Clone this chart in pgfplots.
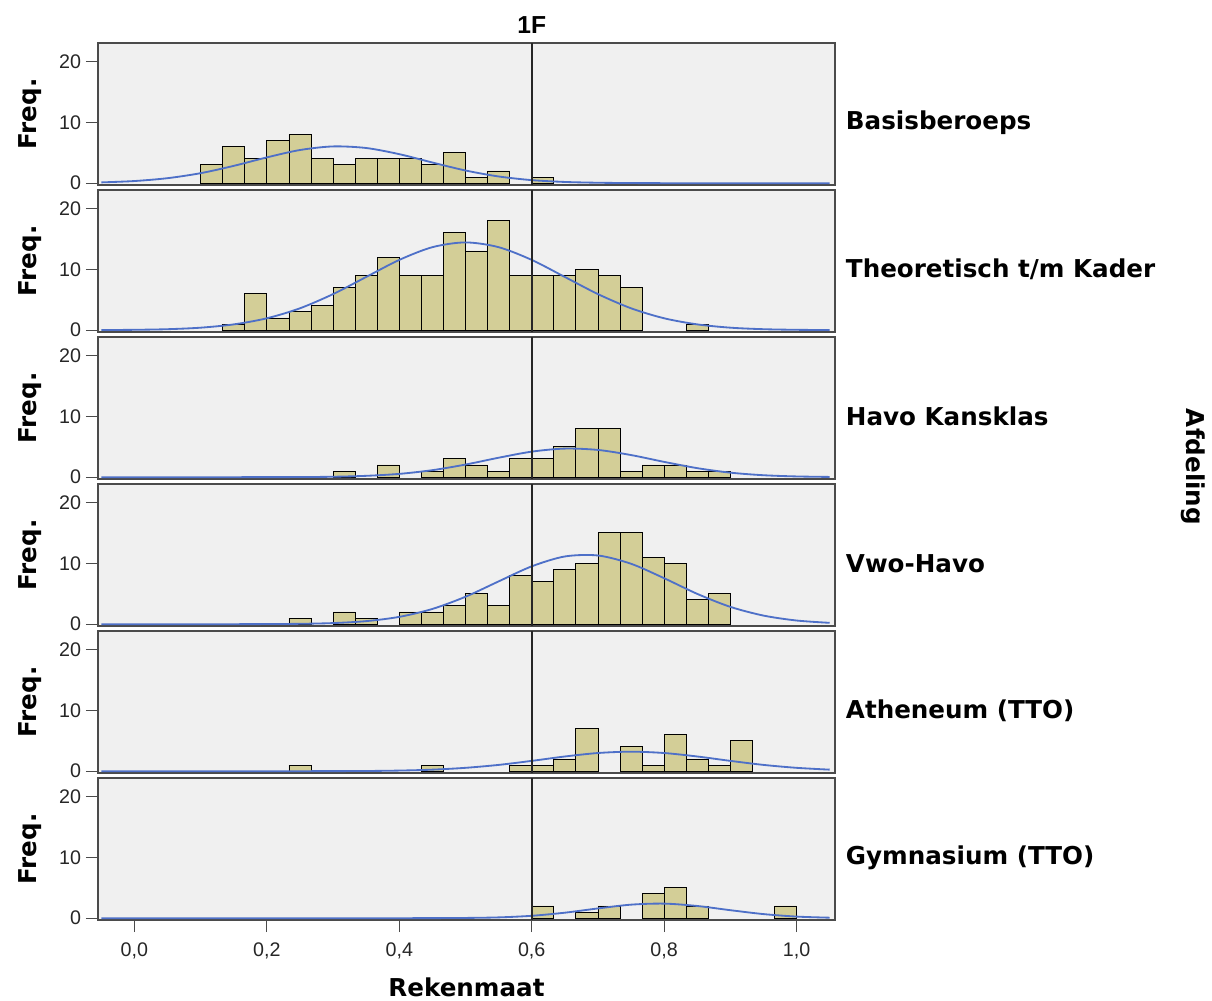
\documentclass[border=0pt]{standalone}
\usepackage{fontspec}
\setmainfont{Liberation Sans}
\newfontfamily\dejavu{DejaVu Sans}
\usepackage{pgfplots}
\pgfplotsset{compat=1.18}

\definecolor{bgpanel}{RGB}{240,240,240}
\definecolor{barfill}{RGB}{211,206,151}
\definecolor{framec}{RGB}{75,75,75}
\definecolor{curve}{RGB}{78,112,200}
\newcommand\lbl{\dejavu\fontsize{17.5}{20}\selectfont\bfseries}
\newcommand\ticks{\fontsize{14}{16}\selectfont}

\tikzset{grp/.style={font=\lbl, anchor=west, xshift=1.5mm}}

\pgfplotsset{
  panel/.style={
    scale only axis, width=184.25mm, height=35.5mm, anchor=north west,
    xmin=-0.055, xmax=1.058, ymin=-0.3, ymax=23,
    clip mode=individual,
    axis background/.style={fill=bgpanel},
    axis line style={draw=framec, line width=0.9pt},
    ytick={0,10,20}, xtick=\empty, tick pos=left,
    tick align=outside, major tick length=3mm,
    tick style={draw=framec, line width=0.9pt},
    ticklabel style={font=\ticks, text=black!85},
    /pgf/number format/assume math mode=true,
    ylabel={Freq.},
    every axis y label/.style={at={(axis description cs:-0.0923,0.5)}, rotate=90, anchor=center, font=\lbl},
  },
  bars/.style={ybar, bar width=0.03333, bar shift=0pt, fill=barfill, draw=black, line width=0.6pt},
  fit/.style={curve, line width=1.3pt, smooth},
  refline/.style={black!85, line width=1.1pt},
}

\begin{document}
\begin{tikzpicture}
\path[use as bounding box] (0,0) rectangle (303mm,-250.25mm);

% Basisberoeps
\begin{axis}[panel, at={(24.5mm,-10.75mm)}]
\addplot[bars] coordinates {(0.1167,3) (0.15,6) (0.1833,4) (0.2167,7) (0.25,8) (0.2833,4) (0.3167,3) (0.35,4) (0.3833,4) (0.4167,4) (0.45,3) (0.4833,5) (0.5167,1) (0.55,2) (0.6167,1)};
\addplot[fit] coordinates {(-0.05,0.13) (0,0.35) (0.05,0.82) (0.1,1.64) (0.15,2.84) (0.2,4.23) (0.25,5.44) (0.3,6.03) (0.35,5.77) (0.4,4.76) (0.45,3.39) (0.5,2.08) (0.55,1.10) (0.6,0.50) (0.65,0.20) (0.7,0.07) (0.75,0.02) (0.8,0) (0.85,0) (0.9,0) (0.95,0) (1,0) (1.05,0)};
\addplot[refline] coordinates {(0.6,-0.3) (0.6,23)};
\node[font=\bfseries\fontsize{17.5}{20}\selectfont, yshift=4.5mm] at (axis cs:0.6,23) {1F};
\node[grp] at (axis description cs:1,0.44) {Basisberoeps};
\end{axis}

% Theoretisch t/m Kader
\begin{axis}[panel, at={(24.5mm,-47.5mm)}]
\addplot[bars] coordinates {(0.15,1) (0.1833,6) (0.2167,2) (0.25,3) (0.2833,4) (0.3167,7) (0.35,9) (0.3833,12) (0.4167,9) (0.45,9) (0.4833,16) (0.5167,13) (0.55,18) (0.5833,9) (0.6167,9) (0.65,9) (0.6833,10) (0.7167,9) (0.75,7) (0.85,1)};
\addplot[fit] coordinates {(-0.05,0.02) (0,0.06) (0.05,0.16) (0.1,0.41) (0.15,0.95) (0.2,1.95) (0.25,3.59) (0.3,5.92) (0.35,8.73) (0.4,11.53) (0.45,13.62) (0.5,14.4) (0.55,13.62) (0.6,11.53) (0.65,8.73) (0.7,5.92) (0.75,3.59) (0.8,1.95) (0.85,0.95) (0.9,0.41) (0.95,0.16) (1,0.06) (1.05,0.02)};
\addplot[refline] coordinates {(0.6,-0.3) (0.6,23)};
\node[grp] at (axis description cs:1,0.44) {Theoretisch t/m Kader};
\end{axis}

% Havo Kansklas
\begin{axis}[panel, at={(24.5mm,-84.25mm)}]
\addplot[bars] coordinates {(0.3167,1) (0.3833,2) (0.45,1) (0.4833,3) (0.5167,2) (0.55,1) (0.5833,3) (0.6167,3) (0.65,5) (0.6833,8) (0.7167,8) (0.75,1) (0.7833,2) (0.8167,2) (0.85,1) (0.8833,1)};
\addplot[fit] coordinates {(-0.05,0) (0,0) (0.05,0) (0.1,0) (0.15,0) (0.2,0.01) (0.25,0.02) (0.3,0.07) (0.35,0.22) (0.4,0.54) (0.45,1.15) (0.5,2.07) (0.55,3.19) (0.6,4.19) (0.65,4.69) (0.7,4.47) (0.75,3.63) (0.8,2.51) (0.85,1.48) (0.9,0.74) (0.95,0.32) (1,0.12) (1.05,0.04)};
\addplot[refline] coordinates {(0.6,-0.3) (0.6,23)};
\node[grp] at (axis description cs:1,0.44) {Havo Kansklas};
\end{axis}

% Vwo-Havo
\begin{axis}[panel, at={(24.5mm,-121mm)}]
\addplot[bars] coordinates {(0.25,1) (0.3167,2) (0.35,1) (0.4167,2) (0.45,2) (0.4833,3) (0.5167,5) (0.55,3) (0.5833,8) (0.6167,7) (0.65,9) (0.6833,10) (0.7167,15) (0.75,15) (0.7833,11) (0.8167,10) (0.85,4) (0.8833,5)};
\addplot[fit] coordinates {(-0.05,0) (0,0) (0.05,0) (0.1,0) (0.15,0) (0.2,0.02) (0.25,0.06) (0.3,0.18) (0.35,0.50) (0.4,1.20) (0.45,2.50) (0.5,4.50) (0.55,7.02) (0.6,9.49) (0.65,11.11) (0.7,11.27) (0.75,9.91) (0.8,7.54) (0.85,4.97) (0.9,2.84) (0.95,1.41) (1,0.60) (1.05,0.22)};
\addplot[refline] coordinates {(0.6,-0.3) (0.6,23)};
\node[grp] at (axis description cs:1,0.44) {Vwo-Havo};
\end{axis}

% Atheneum (TTO)
\begin{axis}[panel, at={(24.5mm,-157.75mm)}]
\addplot[bars] coordinates {(0.25,1) (0.45,1) (0.5833,1) (0.6167,1) (0.65,2) (0.6833,7) (0.75,4) (0.7833,1) (0.8167,6) (0.85,2) (0.8833,1) (0.9167,5)};
\addplot[fit] coordinates {(-0.05,0) (0,0) (0.05,0) (0.1,0) (0.15,0) (0.2,0) (0.25,0) (0.3,0.01) (0.35,0.03) (0.4,0.10) (0.45,0.25) (0.5,0.55) (0.55,1.03) (0.6,1.69) (0.65,2.41) (0.7,2.98) (0.75,3.2) (0.8,2.98) (0.85,2.41) (0.9,1.69) (0.95,1.03) (1,0.55) (1.05,0.25)};
\addplot[refline] coordinates {(0.6,-0.3) (0.6,23)};
\node[grp] at (axis description cs:1,0.44) {Atheneum (TTO)};
\end{axis}

% Gymnasium (TTO)
\begin{axis}[panel, at={(24.5mm,-194.5mm)},
  xtick={0,0.2,0.4,0.6,0.8,1.0},
  xticklabel style={/pgf/number format/.cd, fixed, fixed zerofill, precision=1, use comma},
  xticklabel shift=1.5mm]
\addplot[bars] coordinates {(0.6167,2) (0.6833,1) (0.7167,2) (0.7833,4) (0.8167,5) (0.85,2) (0.9833,2)};
\addplot[fit] coordinates {(-0.05,0) (0,0) (0.05,0) (0.1,0) (0.15,0) (0.2,0) (0.25,0) (0.3,0) (0.35,0) (0.4,0) (0.45,0.01) (0.5,0.04) (0.55,0.13) (0.6,0.39) (0.65,0.90) (0.7,1.60) (0.75,2.22) (0.8,2.39) (0.85,2.00) (0.9,1.31) (0.95,0.67) (1,0.26) (1.05,0.08)};
\addplot[refline] coordinates {(0.6,-0.3) (0.6,23)};
\node[grp] at (axis description cs:1,0.44) {Gymnasium (TTO)};
\node[font=\lbl, yshift=-16.8mm] at (axis description cs:0.5,0) {Rekenmaat};
\end{axis}

\node[font=\lbl, rotate=-90] at (298.25mm,-116.75mm) {Afdeling};
\end{tikzpicture}
\end{document}
